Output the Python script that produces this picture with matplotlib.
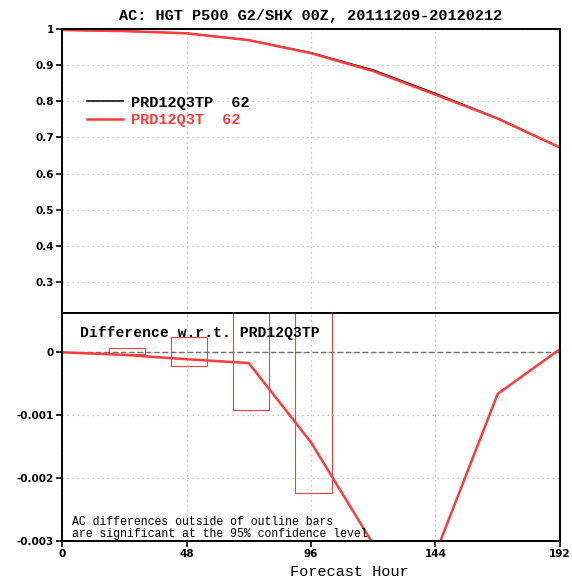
import matplotlib.pyplot as plt
from matplotlib.lines import Line2D

hours = [0, 24, 48, 72, 96, 120, 144, 168, 192]
ac_prd12q3tp = [0.998, 0.995, 0.989, 0.970, 0.935, 0.887, 0.822, 0.753, 0.672]
ac_prd12q3t = [0.998, 0.99496, 0.98889, 0.96983, 0.93357, 0.88395, 0.8188, 0.75235, 0.67205]
ac_diff = [0.0, -0.00004, -0.00011, -0.00017, -0.00143, -0.00305, -0.0032, -0.00066, 0.00005]

# significance bars (only the ones that show up on the chart)
bar_hours = [24, 48, 72, 96]
bar_low = [-0.00003, -0.00022, -0.00092, -0.00224]
bar_high = [0.000064, 0.00024, 0.00092, 0.00224]

top_ticks = [0.3, 0.4, 0.5, 0.6, 0.7, 0.8, 0.9, 1.0]
top_labels = ['0.3', '0.4', '0.5', '0.6', '0.7', '0.8', '0.9', '1']
bot_ticks = [0, -0.001, -0.002, -0.003]
bot_labels = ['0', '-0.001', '-0.002', '-0.003']
x_ticks = [0, 48, 96, 144, 192]

red = '#fa3c3c'
mono = 'Liberation Mono'

fig = plt.figure(figsize=(5.72, 5.81), dpi=100)
ax1 = fig.add_axes([0.1084, 0.4618, 0.8706, 0.4878])
ax2 = fig.add_axes([0.1084, 0.0688, 0.8706, 0.3930])

for ax in [ax1, ax2]:
    ax.set_xlim(0, 192)
    ax.set_xticks(x_ticks)
    ax.grid(True, color='#b4b4b4', linestyle=(0, (1, 3)), linewidth=0.9)
    for s in ax.spines.values():
        s.set_linewidth(1.4)
    ax.tick_params(direction='out', length=4, width=1.2, labelsize=7.5, pad=2)

# top panel: anomaly correlation
ax1.plot(hours, ac_prd12q3tp, color='black', linewidth=1.1)
ax1.plot(hours, ac_prd12q3t, color=red, linewidth=1.8)
ax1.set_ylim(0.214, 1.0)
ax1.set_yticks(top_ticks)
ax1.set_yticklabels(top_labels, fontweight='bold')
ax1.tick_params(axis='x', length=0, labelbottom=False)

handles = [Line2D([], [], color='black', linewidth=1.1),
           Line2D([], [], color=red, linewidth=1.8)]
leg = fig.legend(handles, ['PRD12Q3TP  62', 'PRD12Q3T  62'], loc='upper left',
                 bbox_to_anchor=(86.5 / 572, 1 - 95.5 / 581), frameon=False,
                 borderpad=0, borderaxespad=0, handlelength=2.4, handletextpad=0.5,
                 labelspacing=0.22, prop={'family': mono, 'weight': 'bold', 'size': 11})
leg.get_texts()[1].set_color(red)

# bottom panel: difference
ax2.axhline(0, color='#707070', linestyle=(0, (4, 2)), linewidth=1.0)
ax2.bar([h + 1 for h in bar_hours], [hi - lo for lo, hi in zip(bar_low, bar_high)],
        bottom=bar_low, width=14, fill=False, edgecolor=red, linewidth=0.8)
ax2.plot(hours, ac_diff, color=red, linewidth=1.8)
ax2.set_ylim(-0.003, 0.00063)
ax2.set_yticks(bot_ticks)
ax2.set_yticklabels(bot_labels, fontweight='bold')
ax2.set_xticklabels([str(x) for x in x_ticks], fontweight='bold')

ax2.text(80 / 572, 1 - 333 / 581, 'Difference w.r.t. PRD12Q3TP', transform=fig.transFigure,
         family=mono, fontweight='bold', fontsize=10.6, va='center', ha='left')
ax2.text(72 / 572, 1 - 522 / 581, 'AC differences outside of outline bars',
         transform=fig.transFigure, family=mono, fontsize=8.3, va='center', ha='left')
ax2.text(72 / 572, 1 - 533.5 / 581, 'are significant at the 95% confidence level',
         transform=fig.transFigure, family=mono, fontsize=8.3, va='center', ha='left')

fig.text(311 / 572, 1 - 16 / 581, 'AC: HGT P500 G2/SHX 00Z, 20111209-20120212',
         family=mono, fontweight='bold', fontsize=11, ha='center', va='center')
fig.text(349.5 / 572, 1 - 571.5 / 581, 'Forecast Hour', family=mono, fontsize=11,
         ha='center', va='center')

fig.savefig('out.png', dpi=100)
